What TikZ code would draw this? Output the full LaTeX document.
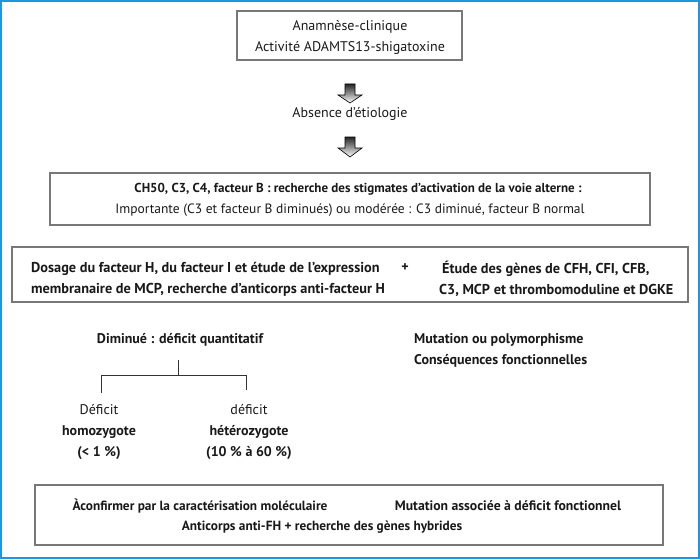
\documentclass[tikz,border=0pt]{standalone}
\usepackage{fontspec}
\setmainfont{PT Sans}
\definecolor{frameblue}{RGB}{29,150,224}
\definecolor{boxgray}{RGB}{120,120,120}
\begin{document}
\begin{tikzpicture}[x=1pt,y=1pt,
  txt/.style={inner sep=0pt, font=\fontsize{14}{21}\selectfont, text=black!90},
  btxt/.style={txt, font=\fontsize{14}{21}\selectfont\bfseries},
  frame/.style={draw=boxgray, line width=1.3pt},
  blockarrow/.style={draw=black, line width=0.6pt, top color=black!85, bottom color=white},
  tree/.style={draw=black!80, line width=0.8pt}]
\useasboundingbox (0,0) rectangle (700,-559);
\draw[frameblue, line width=2pt] (1,-1) rectangle (699,-558);

% top box
\draw[frame] (237,-11) rectangle (462,-60);
\node[txt, align=center] (top) at (350,-37) {Anamnèse-clinique\\Activité ADAMTS13-shigatoxine};

% arrow 1
\path[blockarrow] (345,-84) -- (355,-84) -- (355,-95) -- (362,-95) -- (350,-103) -- (338,-95) -- (345,-95) -- cycle;
\node[txt] (abs) at (350,-114) {Absence d’étiologie};
% arrow 2
\path[blockarrow] (345,-137) -- (355,-137) -- (355,-148) -- (362,-148) -- (350,-157) -- (338,-148) -- (345,-148) -- cycle;

% box 2
\draw[frame] (50,-173) rectangle (650,-225);
\node[btxt, font=\fontsize{13}{21}\selectfont\bfseries] (b2a) at (358,-189) {CH50, C3, C4, facteur B : recherche des stigmates d’activation de la voie alterne :};
\node[txt, font=\fontsize{13.5}{21}\selectfont] (b2b) at (350,-210) {Importante (C3 et facteur B diminués) ou modérée : C3 diminué, facteur B normal};

% box 3
\draw[frame] (12,-247) rectangle (688,-302);
\node[btxt, font=\fontsize{14.3}{21}\selectfont\bfseries, align=left, anchor=west] (b3l) at (31,-279) {Dosage du facteur H, du facteur I et étude de l’expression\\membranaire de MCP, recherche d’anticorps anti-facteur H};
\node[btxt] (plus) at (405,-268) {+};
\node[btxt, font=\fontsize{14.3}{21}\selectfont\bfseries, align=left, anchor=west] (b3r) at (439,-279) {\hspace*{3pt}Étude des gènes de CFH, CFI, CFB,\\C3, MCP et thrombomoduline et DGKE};

% left branch
\node[btxt] (dim) at (180,-340) {Diminué : déficit quantitatif};
\node[txt, align=center] (homo) at (99,-432) {Déficit\\\textbf{homozygote}\\\textbf{(< 1 \%)}};
\node[txt, align=center] (hetero) at (249,-432) {déficit\\\textbf{hétérozygote}\\\textbf{(10 \% à 60 \%)}};
\coordinate (t0) at (178,-360);
\coordinate (t1) at (178,-375);
\coordinate (tl) at (101,-375);
\coordinate (tr) at (246,-375);
\coordinate (tlb) at (101,-393);
\coordinate (trb) at (246,-390);
\draw[tree] (t0) -- (t1);
\draw[tree] (tlb) -- (tl) -- (tr) -- (trb);

% right branch
\node[btxt, align=left, anchor=west] (mut) at (414,-350) {Mutation ou polymorphisme\\Conséquences fonctionnelles};

% bottom box
\draw[frame] (35,-485) rectangle (663,-545);
\node[btxt, font=\fontsize{13.3}{21}\selectfont\bfseries] (c1) at (200,-506) {Àconfirmer par la caractérisation moléculaire};
\node[btxt, font=\fontsize{13.7}{21}\selectfont\bfseries] (c2) at (508,-506) {Mutation associée à déficit fonctionnel};
\node[btxt, font=\fontsize{13.3}{21}\selectfont\bfseries] (c3) at (322,-527) {Anticorps anti-FH + recherche des gènes hybrides};
\end{tikzpicture}
\end{document}
